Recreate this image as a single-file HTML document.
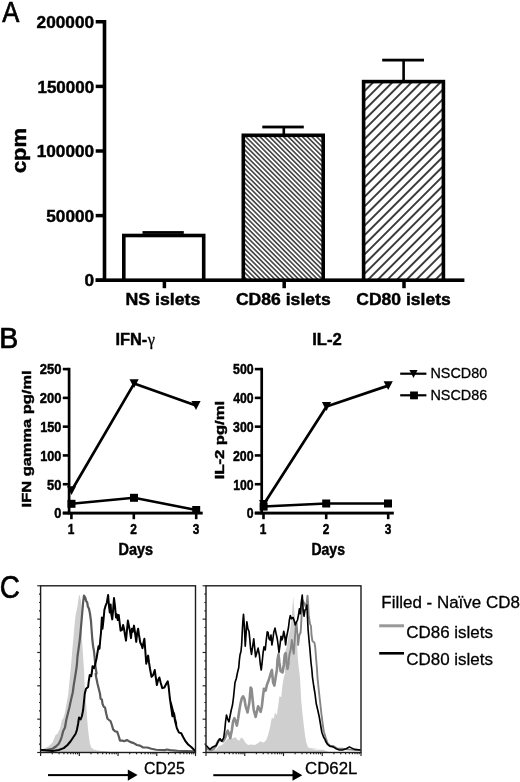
<!DOCTYPE html>
<html><head><meta charset="utf-8"><title>Figure</title>
<style>html,body{margin:0;padding:0;background:#fff}svg{display:block}</style></head>
<body>
<svg width="520" height="782" viewBox="0 0 520 782">
<rect x="0" y="0" width="520" height="782" fill="#fff"/>
<filter id="soft" x="0" y="0" width="520" height="782" filterUnits="userSpaceOnUse"><feGaussianBlur stdDeviation="0.45"/></filter>
<g filter="url(#soft)">
<rect x="-5" y="-5" width="530" height="792" fill="#fff"/>
<text transform="translate(2.24,22.30) scale(0.8553,1)" font-family='"Liberation Sans", Arial, Helvetica, sans-serif' font-weight="normal" font-size="30" fill="#000" stroke="#000" stroke-width="0.7">A</text>
<rect x="102.70" y="20.00" width="3.60" height="262.00" fill="#000"/>
<rect x="95.70" y="20.00" width="8.80" height="3.50" fill="#000"/>
<text transform="translate(36.60,27.90) scale(1.0023,1)" font-family='"Liberation Sans", Arial, Helvetica, sans-serif' font-weight="bold" font-size="17.2" fill="#000" stroke="#000" stroke-width="0.45">200000</text>
<rect x="95.70" y="84.65" width="8.80" height="3.50" fill="#000"/>
<text transform="translate(37.44,92.55) scale(0.9874,1)" font-family='"Liberation Sans", Arial, Helvetica, sans-serif' font-weight="bold" font-size="17.2" fill="#000" stroke="#000" stroke-width="0.45">150000</text>
<rect x="95.70" y="149.25" width="8.80" height="3.50" fill="#000"/>
<text transform="translate(36.72,157.15) scale(1.0000,1)" font-family='"Liberation Sans", Arial, Helvetica, sans-serif' font-weight="bold" font-size="17.2" fill="#000" stroke="#000" stroke-width="0.45">100000</text>
<rect x="95.70" y="213.85" width="8.80" height="3.50" fill="#000"/>
<text transform="translate(46.28,221.75) scale(0.9997,1)" font-family='"Liberation Sans", Arial, Helvetica, sans-serif' font-weight="bold" font-size="17.2" fill="#000" stroke="#000" stroke-width="0.45">50000</text>
<rect x="95.70" y="278.45" width="8.80" height="3.50" fill="#000"/>
<text transform="translate(84.51,286.35) scale(1.0037,1)" font-family='"Liberation Sans", Arial, Helvetica, sans-serif' font-weight="bold" font-size="17.2" fill="#000" stroke="#000" stroke-width="0.45">0</text>
<rect x="95.70" y="278.40" width="368.70" height="3.60" fill="#000"/>
<rect x="162.65" y="280.20" width="3.50" height="8.00" fill="#000"/>
<rect x="282.45" y="280.20" width="3.50" height="8.00" fill="#000"/>
<rect x="402.25" y="280.20" width="3.50" height="8.00" fill="#000"/>
<defs>
<pattern id="h2" patternUnits="userSpaceOnUse" width="3.34" height="3.34" patternTransform="translate(246.6,137.5) rotate(45)"><rect x="0" y="0" width="3.34" height="3.34" fill="#fff"/><rect x="0" y="-0.66" width="3.34" height="1.32" fill="#1a1a1a"/><rect x="0" y="2.68" width="3.34" height="1.32" fill="#1a1a1a"/></pattern>
<pattern id="h3" patternUnits="userSpaceOnUse" width="6.8" height="6.8" patternTransform="translate(372.5,83) rotate(-45)"><rect x="0" y="0" width="6.8" height="6.8" fill="#fff"/><rect x="0" y="-0.75" width="6.8" height="1.5" fill="#000"/><rect x="0" y="6.05" width="6.8" height="1.5" fill="#000"/></pattern>
</defs>
<rect x="123.80" y="235.50" width="79.90" height="44.70" fill="#fff" stroke="#000" stroke-width="3.6"/>
<rect x="243.30" y="135.30" width="79.90" height="144.90" fill="url(#h2)" stroke="#000" stroke-width="3.6"/>
<rect x="363.60" y="81.60" width="79.80" height="198.60" fill="url(#h3)" stroke="#000" stroke-width="3.6"/>
<rect x="142.50" y="231.10" width="41.30" height="2.80" fill="#000"/>
<rect x="262.30" y="125.60" width="41.50" height="2.80" fill="#000"/>
<rect x="282.50" y="127.00" width="2.60" height="7.00" fill="#000"/>
<rect x="382.20" y="58.70" width="41.80" height="2.80" fill="#000"/>
<rect x="402.30" y="60.00" width="2.60" height="21.00" fill="#000"/>
<text transform="translate(125.40,305.00) scale(1.0195,1)" font-family='"Liberation Sans", Arial, Helvetica, sans-serif' font-weight="bold" font-size="17.4" fill="#000" stroke="#000" stroke-width="0.45">NS islets</text>
<text transform="translate(235.90,304.90) scale(1.0109,1)" font-family='"Liberation Sans", Arial, Helvetica, sans-serif' font-weight="bold" font-size="17.4" fill="#000" stroke="#000" stroke-width="0.45">CD86 islets</text>
<text transform="translate(356.30,304.90) scale(1.0076,1)" font-family='"Liberation Sans", Arial, Helvetica, sans-serif' font-weight="bold" font-size="17.4" fill="#000" stroke="#000" stroke-width="0.45">CD80 islets</text>
<text transform="translate(25.50,173.08) rotate(-90) scale(1.0863,1)" font-family='"Liberation Sans", Arial, Helvetica, sans-serif' font-weight="bold" font-size="20.2" fill="#000" stroke="#000" stroke-width="0.45">cpm</text>
<text transform="translate(-0.75,347.90) scale(0.9776,1)" font-family='"Liberation Sans", Arial, Helvetica, sans-serif' font-weight="normal" font-size="29.2" fill="#000" stroke="#000" stroke-width="0.7">B</text>
<rect x="67.75" y="367.80" width="2.70" height="146.60" fill="#000"/>
<rect x="62.80" y="367.80" width="6.30" height="2.60" fill="#000"/>
<text transform="translate(39.75,374.45) scale(0.9285,1)" font-family='"Liberation Sans", Arial, Helvetica, sans-serif' font-weight="bold" font-size="14.0" fill="#000" stroke="#000" stroke-width="0.45">250</text>
<rect x="62.80" y="396.58" width="6.30" height="2.60" fill="#000"/>
<text transform="translate(39.75,403.23) scale(0.9285,1)" font-family='"Liberation Sans", Arial, Helvetica, sans-serif' font-weight="bold" font-size="14.0" fill="#000" stroke="#000" stroke-width="0.45">200</text>
<rect x="62.80" y="425.36" width="6.30" height="2.60" fill="#000"/>
<text transform="translate(40.21,432.01) scale(0.9083,1)" font-family='"Liberation Sans", Arial, Helvetica, sans-serif' font-weight="bold" font-size="14.0" fill="#000" stroke="#000" stroke-width="0.45">150</text>
<rect x="62.80" y="454.14" width="6.30" height="2.60" fill="#000"/>
<text transform="translate(40.21,460.79) scale(0.9083,1)" font-family='"Liberation Sans", Arial, Helvetica, sans-serif' font-weight="bold" font-size="14.0" fill="#000" stroke="#000" stroke-width="0.45">100</text>
<rect x="62.80" y="482.92" width="6.30" height="2.60" fill="#000"/>
<text transform="translate(47.11,489.57) scale(0.9203,1)" font-family='"Liberation Sans", Arial, Helvetica, sans-serif' font-weight="bold" font-size="14.0" fill="#000" stroke="#000" stroke-width="0.45">50</text>
<rect x="62.80" y="511.70" width="6.30" height="2.60" fill="#000"/>
<text transform="translate(54.29,518.35) scale(0.9173,1)" font-family='"Liberation Sans", Arial, Helvetica, sans-serif' font-weight="bold" font-size="14.0" fill="#000" stroke="#000" stroke-width="0.45">0</text>
<rect x="62.80" y="511.65" width="139.90" height="2.90" fill="#000"/>
<rect x="70.10" y="513.00" width="2.60" height="6.20" fill="#000"/>
<text transform="translate(67.69,534.30) scale(0.8500,1)" font-family='"Liberation Sans", Arial, Helvetica, sans-serif' font-weight="bold" font-size="14.0" fill="#000" stroke="#000" stroke-width="0.45">1</text>
<rect x="132.50" y="513.00" width="2.60" height="6.20" fill="#000"/>
<text transform="translate(130.31,534.30) scale(0.8500,1)" font-family='"Liberation Sans", Arial, Helvetica, sans-serif' font-weight="bold" font-size="14.0" fill="#000" stroke="#000" stroke-width="0.45">2</text>
<rect x="194.90" y="513.00" width="2.60" height="6.20" fill="#000"/>
<text transform="translate(192.77,534.30) scale(0.8500,1)" font-family='"Liberation Sans", Arial, Helvetica, sans-serif' font-weight="bold" font-size="14.0" fill="#000" stroke="#000" stroke-width="0.45">3</text>
<polyline points="71.50,490.70 134.10,383.60 196.00,405.50" fill="none" stroke="#000" stroke-width="2.7" stroke-linejoin="round" stroke-linecap="butt"/>
<polyline points="71.50,503.80 134.00,497.80 196.20,510.00" fill="none" stroke="#000" stroke-width="2.5" stroke-linejoin="round" stroke-linecap="butt"/>
<polygon points="66.90,486.30 76.10,486.30 71.50,495.10" fill="#000"/>
<polygon points="129.50,379.20 138.70,379.20 134.10,388.00" fill="#000"/>
<polygon points="191.40,401.10 200.60,401.10 196.00,409.90" fill="#000"/>
<rect x="67.50" y="499.80" width="8.00" height="8.00" fill="#000"/>
<rect x="130.00" y="493.80" width="8.00" height="8.00" fill="#000"/>
<rect x="192.20" y="506.00" width="8.00" height="8.00" fill="#000"/>
<rect x="260.35" y="367.80" width="2.70" height="146.60" fill="#000"/>
<rect x="254.80" y="367.80" width="6.90" height="2.60" fill="#000"/>
<text transform="translate(233.03,374.45) scale(0.8808,1)" font-family='"Liberation Sans", Arial, Helvetica, sans-serif' font-weight="bold" font-size="14.0" fill="#000" stroke="#000" stroke-width="0.45">500</text>
<rect x="254.80" y="396.58" width="6.90" height="2.60" fill="#000"/>
<text transform="translate(233.22,403.23) scale(0.8726,1)" font-family='"Liberation Sans", Arial, Helvetica, sans-serif' font-weight="bold" font-size="14.0" fill="#000" stroke="#000" stroke-width="0.45">400</text>
<rect x="254.80" y="425.36" width="6.90" height="2.60" fill="#000"/>
<text transform="translate(233.12,432.01) scale(0.8767,1)" font-family='"Liberation Sans", Arial, Helvetica, sans-serif' font-weight="bold" font-size="14.0" fill="#000" stroke="#000" stroke-width="0.45">300</text>
<rect x="254.80" y="454.14" width="6.90" height="2.60" fill="#000"/>
<text transform="translate(232.97,460.79) scale(0.8836,1)" font-family='"Liberation Sans", Arial, Helvetica, sans-serif' font-weight="bold" font-size="14.0" fill="#000" stroke="#000" stroke-width="0.45">200</text>
<rect x="254.80" y="482.92" width="6.90" height="2.60" fill="#000"/>
<text transform="translate(233.24,489.57) scale(0.8717,1)" font-family='"Liberation Sans", Arial, Helvetica, sans-serif' font-weight="bold" font-size="14.0" fill="#000" stroke="#000" stroke-width="0.45">100</text>
<rect x="254.80" y="511.70" width="6.90" height="2.60" fill="#000"/>
<text transform="translate(246.81,518.35) scale(0.8722,1)" font-family='"Liberation Sans", Arial, Helvetica, sans-serif' font-weight="bold" font-size="14.0" fill="#000" stroke="#000" stroke-width="0.45">0</text>
<rect x="254.80" y="511.65" width="139.00" height="2.90" fill="#000"/>
<rect x="262.20" y="513.00" width="2.60" height="6.20" fill="#000"/>
<text transform="translate(259.79,534.30) scale(0.8500,1)" font-family='"Liberation Sans", Arial, Helvetica, sans-serif' font-weight="bold" font-size="14.0" fill="#000" stroke="#000" stroke-width="0.45">1</text>
<rect x="324.90" y="513.00" width="2.60" height="6.20" fill="#000"/>
<text transform="translate(322.71,534.30) scale(0.8500,1)" font-family='"Liberation Sans", Arial, Helvetica, sans-serif' font-weight="bold" font-size="14.0" fill="#000" stroke="#000" stroke-width="0.45">2</text>
<rect x="386.90" y="513.00" width="2.60" height="6.20" fill="#000"/>
<text transform="translate(384.77,534.30) scale(0.8500,1)" font-family='"Liberation Sans", Arial, Helvetica, sans-serif' font-weight="bold" font-size="14.0" fill="#000" stroke="#000" stroke-width="0.45">3</text>
<polyline points="263.60,504.50 326.50,406.50 388.20,385.60" fill="none" stroke="#000" stroke-width="2.7" stroke-linejoin="round" stroke-linecap="butt"/>
<polyline points="263.60,506.60 326.20,503.50 388.00,503.50" fill="none" stroke="#000" stroke-width="2.5" stroke-linejoin="round" stroke-linecap="butt"/>
<polygon points="259.00,500.10 268.20,500.10 263.60,508.90" fill="#000"/>
<polygon points="321.90,402.10 331.10,402.10 326.50,410.90" fill="#000"/>
<polygon points="383.60,381.20 392.80,381.20 388.20,390.00" fill="#000"/>
<rect x="259.60" y="502.60" width="8.00" height="8.00" fill="#000"/>
<rect x="322.20" y="499.50" width="8.00" height="8.00" fill="#000"/>
<rect x="384.00" y="499.50" width="8.00" height="8.00" fill="#000"/>
<text transform="translate(118.42,555.40) scale(0.9064,1)" font-family='"Liberation Sans", Arial, Helvetica, sans-serif' font-weight="bold" font-size="16.0" fill="#000" stroke="#000" stroke-width="0.45">Days</text>
<text transform="translate(311.45,554.90) scale(0.8762,1)" font-family='"Liberation Sans", Arial, Helvetica, sans-serif' font-weight="bold" font-size="16.0" fill="#000" stroke="#000" stroke-width="0.45">Days</text>
<text transform="translate(31.00,507.41) rotate(-90) scale(1.2100,1)" font-family='"Liberation Sans", Arial, Helvetica, sans-serif' font-weight="bold" font-size="13.6" fill="#000" stroke="#000" stroke-width="0.45">IFN gamma pg/ml</text>
<text transform="translate(223.70,479.22) rotate(-90) scale(1.2204,1)" font-family='"Liberation Sans", Arial, Helvetica, sans-serif' font-weight="bold" font-size="13.6" fill="#000" stroke="#000" stroke-width="0.45">IL-2 pg/ml</text>
<text transform="translate(115.39,344.60) scale(0.9537,1)" font-family='"Liberation Sans", Arial, Helvetica, sans-serif' font-weight="bold" font-size="17.2" fill="#000" stroke="#000" stroke-width="0.45">IFN-</text>
<text transform="translate(147.64,344.60) scale(0.9898,1)" font-family='"Liberation Serif", "Times New Roman", serif' font-weight="normal" font-size="16.5" fill="#000" stroke="#000" stroke-width="0.3">γ</text>
<text transform="translate(312.17,345.20) scale(0.9699,1)" font-family='"Liberation Sans", Arial, Helvetica, sans-serif' font-weight="bold" font-size="17.2" fill="#000" stroke="#000" stroke-width="0.45">IL-2</text>
<rect x="400.20" y="372.60" width="26.20" height="2.20" fill="#000"/>
<polygon points="409.40,370.10 417.60,370.10 413.50,377.90" fill="#000"/>
<rect x="400.20" y="394.20" width="26.20" height="2.20" fill="#000"/>
<rect x="410.10" y="391.50" width="7.80" height="7.80" fill="#000"/>
<text transform="translate(430.41,378.30) scale(0.9586,1)" font-family='"Liberation Sans", Arial, Helvetica, sans-serif' font-weight="normal" font-size="15" fill="#000" stroke="#000" stroke-width="0.3">NSCD80</text>
<text transform="translate(430.41,400.40) scale(0.9599,1)" font-family='"Liberation Sans", Arial, Helvetica, sans-serif' font-weight="normal" font-size="15" fill="#000" stroke="#000" stroke-width="0.3">NSCD86</text>
<!--PANELC-->
<path d="M41.10 752.50 L41.25 749.38 L45.00 748.12 L48.75 746.25 L52.50 742.50 L55.62 735.00 L57.50 733.75 L60.00 728.75 L61.88 720.00 L63.12 718.75 L65.00 712.50 L66.25 705.00 L68.12 695.00 L69.38 682.50 L70.62 670.00 L71.50 660.00 L72.50 647.50 L73.50 637.50 L74.38 626.25 L75.62 615.00 L77.50 606.25 L79.00 595.00 L79.75 595.62 L80.75 600.00 L81.75 607.50 L82.00 616.25 L81.88 628.75 L82.12 641.25 L82.75 651.25 L83.50 662.50 L84.25 672.50 L84.38 680.00 L85.00 690.00 L86.25 705.00 L87.25 720.00 L88.12 730.00 L89.00 737.50 L90.00 743.75 L91.25 747.50 L93.75 749.38 L97.50 750.62 L105.00 751.25 L115.00 752.50 Z" fill="#cfcfcf" stroke="none" stroke-width="0" stroke-linejoin="round" stroke-linecap="round"/>
<path d="M41.25 750.00 L46.25 750.00 L52.50 748.75 L56.25 746.25 L58.75 743.75 L60.62 740.00 L61.88 736.25 L63.12 731.25 L65.00 727.50 L66.25 720.00 L67.50 715.00 L69.38 707.50 L71.25 698.75 L72.75 692.50 L73.75 685.00 L75.00 677.50 L76.00 671.25 L76.88 665.00 L77.50 656.25 L78.75 647.50 L79.75 640.00 L80.62 631.25 L81.50 621.25 L82.25 612.50 L83.12 602.50 L84.00 595.62 L85.25 597.50 L86.25 601.25 L87.25 602.50 L87.75 606.25 L89.00 608.75 L90.00 613.75 L91.00 621.25 L91.62 630.00 L92.25 638.75 L93.12 646.25 L94.00 651.25 L94.75 658.75 L95.25 665.00 L96.00 670.00 L96.62 673.75 L95.62 673.75 L96.25 677.50 L97.50 683.75 L98.75 688.75 L100.00 693.75 L100.62 698.75 L101.88 699.38 L102.50 703.75 L103.75 706.88 L105.00 707.50 L106.25 713.75 L107.50 718.75 L110.62 721.25 L111.88 725.00 L113.12 729.38 L115.00 731.25 L117.25 731.88 L118.75 736.25 L120.00 740.62 L122.50 740.62 L124.38 741.25 L126.88 740.00 L130.00 741.88 L133.75 743.12 L136.88 745.00 L140.00 745.62 L143.12 747.50 L147.50 747.50 L151.25 748.75 L156.25 749.75 L160.00 750.00 L165.00 750.12 L166.88 749.50 L170.00 750.12 L177.50 750.75 L195.00 751.38" fill="none" stroke="#5a5a5a" stroke-width="2.2" stroke-linejoin="round" stroke-linecap="round"/>
<path d="M41.25 750.00 L52.50 751.00 L58.75 750.00 L63.75 748.12 L67.50 745.00 L70.62 741.25 L73.12 737.50 L75.62 733.75 L76.88 730.00 L78.12 723.75 L79.00 717.50 L80.62 719.38 L81.88 716.25 L83.12 710.00 L84.00 701.25 L84.75 693.75 L86.00 688.75 L88.12 686.88 L88.75 681.25 L89.75 675.00 L91.25 676.25 L92.00 671.25 L92.50 666.25 L94.00 668.12 L95.00 665.00 L96.50 658.75 L97.50 652.50 L98.50 646.25 L99.50 648.75 L100.25 640.00 L101.00 632.50 L101.88 617.50 L102.50 628.75 L103.50 620.00 L104.38 610.00 L105.62 605.62 L106.88 602.50 L108.12 595.00 L109.00 606.25 L109.75 612.50 L110.62 604.38 L111.25 613.75 L112.25 619.38 L113.12 610.00 L114.00 598.12 L115.00 606.25 L116.00 617.50 L116.88 614.38 L117.75 620.00 L118.75 615.00 L119.75 623.75 L120.62 630.62 L121.88 630.00 L123.12 625.00 L124.00 628.75 L125.00 635.00 L126.00 640.62 L126.88 631.25 L127.88 620.62 L129.00 626.25 L130.00 631.25 L131.00 638.12 L131.88 628.75 L132.75 631.88 L134.00 625.62 L135.00 632.50 L136.25 641.88 L137.25 632.50 L138.12 628.75 L139.00 635.00 L140.25 642.50 L141.50 645.00 L142.50 648.12 L143.50 642.50 L144.38 638.75 L145.25 650.00 L146.25 663.75 L147.25 658.75 L148.12 655.62 L149.00 662.50 L150.00 668.75 L151.50 676.88 L153.12 675.00 L154.75 670.00 L155.62 676.25 L156.88 685.00 L158.12 680.00 L159.38 677.50 L160.62 682.50 L162.25 688.12 L164.38 687.50 L166.25 683.75 L167.75 681.25 L168.75 687.50 L169.75 697.50 L171.00 706.25 L172.50 716.25 L174.00 713.12 L175.00 718.75 L176.25 723.75 L170.62 702.00 L172.25 715.75 L173.75 713.25 L175.00 720.75 L176.88 728.25 L179.00 732.62 L181.25 733.25 L183.12 737.00 L185.62 741.38 L188.12 744.50 L191.25 747.00 L195.00 750.75" fill="none" stroke="#000" stroke-width="2.0" stroke-linejoin="round" stroke-linecap="round"/>
<path d="M206.50 752.50 L207.50 750.00 L212.50 750.62 L216.25 749.38 L218.75 746.25 L221.88 745.00 L225.00 741.88 L226.88 739.38 L229.38 738.12 L231.88 738.50 L233.75 738.12 L235.62 736.88 L237.50 740.00 L239.38 740.62 L241.25 737.50 L243.12 738.75 L245.62 743.12 L248.12 745.00 L251.25 744.38 L255.00 745.00 L258.12 743.12 L260.62 741.25 L262.50 742.50 L265.00 741.88 L263.75 742.50 L266.25 740.00 L268.12 735.00 L270.00 727.50 L271.88 717.50 L273.75 718.75 L275.00 712.50 L276.88 715.00 L278.12 706.25 L279.38 696.25 L281.25 696.88 L282.50 685.00 L283.75 677.50 L285.00 673.75 L284.38 666.25 L285.00 660.00 L285.62 650.00 L286.88 646.25 L287.75 641.25 L288.75 635.00 L290.00 631.25 L291.25 621.25 L292.25 610.00 L293.12 596.25 L294.00 607.50 L295.00 617.50 L295.62 627.50 L296.50 637.50 L297.25 647.50 L297.75 657.50 L298.75 667.50 L300.00 677.50 L300.62 688.75 L301.25 701.25 L302.50 713.75 L303.75 725.00 L305.00 735.00 L306.25 742.50 L308.12 747.50 L311.25 748.75 L316.25 750.00 L325.00 750.00 L308.12 747.50 L312.50 748.75 L323.75 750.00 L330.00 752.50 Z" fill="#cfcfcf" stroke="none" stroke-width="0" stroke-linejoin="round" stroke-linecap="round"/>
<path d="M288.50 662.50 L289.38 655.00 L290.62 650.00 L291.88 640.00 L292.75 647.50 L293.75 653.75 L294.75 640.00 L295.62 628.75 L296.50 622.50 L297.50 635.00 L298.12 645.00 L299.38 635.00 L300.62 632.50 L301.25 622.50 L301.88 610.00 L302.50 600.00 L303.75 602.50 L305.00 605.00 L306.00 607.50 L306.88 601.25 L307.50 595.62 L308.12 603.75 L308.75 616.25 L310.00 623.75 L311.00 626.25 L311.50 635.00 L312.50 641.25 L314.38 642.50 L315.25 647.50 L316.00 657.50 L316.88 667.50 L317.50 677.50 L318.75 690.00 L320.00 701.25 L321.25 712.50 L322.50 722.50 L323.75 731.25 L325.62 737.50 L327.50 743.12 L330.00 745.62 L333.75 746.25 L337.50 748.75 L342.50 748.75 L347.50 749.38 L355.00 749.75 L360.00 750.00" fill="none" stroke="#858585" stroke-width="1.9" stroke-linejoin="round" stroke-linecap="round"/>
<path d="M207.50 748.75 L211.25 750.00 L213.75 748.75 L215.62 746.25 L217.50 742.50 L219.38 739.38 L221.25 740.62 L223.12 741.25 L225.00 738.12 L226.50 733.75 L227.75 730.62 L229.00 733.75 L230.25 738.12 L231.88 730.00 L233.12 721.25 L234.38 718.12 L235.62 721.25 L236.88 725.62 L238.12 718.75 L239.38 710.00 L240.62 703.12 L241.88 698.12 L243.12 696.25 L244.38 698.75 L245.62 706.25 L247.50 712.50 L249.38 702.50 L250.62 687.50 L251.50 688.75 L252.50 698.75 L253.75 710.00 L255.62 716.88 L257.25 710.00 L258.12 706.25 L259.38 708.75 L260.62 711.88 L261.88 706.25 L263.12 695.00 L264.00 688.75 L263.75 688.75 L265.62 690.62 L266.88 685.00 L268.75 680.00 L270.62 673.75 L271.88 670.00 L273.12 682.50 L274.38 685.62 L275.62 677.50 L276.88 670.00 L277.50 660.00 L278.50 654.38 L279.38 662.50 L280.62 671.25 L282.50 672.50 L283.75 665.00 L284.75 655.00 L285.62 653.12 L286.50 661.25 L287.50 668.75 L288.50 662.50" fill="none" stroke="#8c8c8c" stroke-width="2.6" stroke-linejoin="round" stroke-linecap="round"/>
<path d="M206.25 745.62 L208.12 747.50 L210.00 749.38 L211.88 747.50 L214.38 746.25 L216.25 745.62 L218.12 741.25 L220.00 738.75 L221.88 741.25 L223.75 737.50 L224.75 730.00 L225.62 721.25 L226.50 715.00 L227.75 719.38 L229.00 721.88 L230.00 716.25 L231.25 710.00 L232.50 705.00 L233.50 697.50 L234.38 688.75 L235.00 682.50 L236.25 678.75 L237.50 672.50 L238.75 667.50 L239.38 660.00 L240.00 655.00 L241.00 651.25 L241.62 645.00 L242.25 632.50 L242.88 621.25 L243.50 614.38 L244.38 626.25 L245.25 646.25 L246.00 635.00 L246.88 621.88 L247.88 628.75 L249.00 631.25 L249.75 638.75 L250.62 648.75 L251.50 654.38 L252.50 647.50 L253.75 638.75 L254.75 648.75 L255.62 656.88 L256.88 652.50 L258.12 648.12 L259.38 655.00 L260.25 663.75 L261.25 670.00 L262.12 662.50 L263.12 652.50 L264.00 646.88 L265.25 650.00 L266.25 640.00 L267.25 631.88 L268.12 632.50 L269.00 638.75 L270.00 640.00 L271.00 635.00 L271.88 645.00 L272.75 640.00 L273.75 632.50 L275.00 628.12 L276.00 633.12 L277.25 638.75 L278.12 645.00 L279.00 652.50 L280.00 645.00 L281.00 636.25 L281.88 640.00 L282.75 637.50 L283.75 631.25 L284.75 636.25 L285.62 645.00 L286.50 637.50 L287.50 632.50 L288.50 627.50 L289.38 620.00 L290.25 615.62 L291.50 618.75 L293.12 617.50 L294.38 621.25 L295.25 625.00 L296.25 622.50 L297.50 620.00 L298.50 615.00 L299.38 608.75 L300.25 613.75 L301.25 602.50 L302.25 595.00 L303.12 610.00 L304.00 616.25 L305.00 610.00 L306.25 608.75 L306.88 605.00 L307.50 617.50 L308.12 630.00 L309.00 640.00 L309.75 647.50 L310.38 655.00 L311.00 662.50 L311.88 670.00 L312.50 677.50 L313.75 686.25 L315.00 693.75 L316.25 703.75 L317.75 710.00 L319.38 717.50 L320.62 725.00 L321.88 732.50 L323.75 737.50 L325.00 739.38 L325.62 741.25 L327.50 744.38 L330.00 746.25 L333.12 746.88 L336.25 748.75 L339.38 750.00 L342.50 750.00 L346.25 748.75 L349.38 746.88 L351.88 748.12 L354.38 749.38 L360.00 750.00" fill="none" stroke="#000" stroke-width="1.65" stroke-linejoin="round" stroke-linecap="round"/>
<rect x="40.60" y="585.80" width="154.90" height="166.70" fill="none" stroke="#1c1c1c" stroke-width="1.4"/>
<line x1="40.60" y1="752.50" x2="40.60" y2="756.10" stroke="#222" stroke-width="1.15" stroke-linecap="butt"/>
<line x1="52.26" y1="752.50" x2="52.26" y2="754.30" stroke="#222" stroke-width="1.15" stroke-linecap="butt"/>
<line x1="59.08" y1="752.50" x2="59.08" y2="754.30" stroke="#222" stroke-width="1.15" stroke-linecap="butt"/>
<line x1="63.91" y1="752.50" x2="63.91" y2="754.30" stroke="#222" stroke-width="1.15" stroke-linecap="butt"/>
<line x1="67.67" y1="752.50" x2="67.67" y2="754.30" stroke="#222" stroke-width="1.15" stroke-linecap="butt"/>
<line x1="70.73" y1="752.50" x2="70.73" y2="754.30" stroke="#222" stroke-width="1.15" stroke-linecap="butt"/>
<line x1="73.33" y1="752.50" x2="73.33" y2="754.30" stroke="#222" stroke-width="1.15" stroke-linecap="butt"/>
<line x1="75.57" y1="752.50" x2="75.57" y2="754.30" stroke="#222" stroke-width="1.15" stroke-linecap="butt"/>
<line x1="77.55" y1="752.50" x2="77.55" y2="754.30" stroke="#222" stroke-width="1.15" stroke-linecap="butt"/>
<line x1="79.33" y1="752.50" x2="79.33" y2="756.10" stroke="#222" stroke-width="1.15" stroke-linecap="butt"/>
<line x1="90.98" y1="752.50" x2="90.98" y2="754.30" stroke="#222" stroke-width="1.15" stroke-linecap="butt"/>
<line x1="97.80" y1="752.50" x2="97.80" y2="754.30" stroke="#222" stroke-width="1.15" stroke-linecap="butt"/>
<line x1="102.64" y1="752.50" x2="102.64" y2="754.30" stroke="#222" stroke-width="1.15" stroke-linecap="butt"/>
<line x1="106.39" y1="752.50" x2="106.39" y2="754.30" stroke="#222" stroke-width="1.15" stroke-linecap="butt"/>
<line x1="109.46" y1="752.50" x2="109.46" y2="754.30" stroke="#222" stroke-width="1.15" stroke-linecap="butt"/>
<line x1="112.05" y1="752.50" x2="112.05" y2="754.30" stroke="#222" stroke-width="1.15" stroke-linecap="butt"/>
<line x1="114.30" y1="752.50" x2="114.30" y2="754.30" stroke="#222" stroke-width="1.15" stroke-linecap="butt"/>
<line x1="116.28" y1="752.50" x2="116.28" y2="754.30" stroke="#222" stroke-width="1.15" stroke-linecap="butt"/>
<line x1="118.05" y1="752.50" x2="118.05" y2="756.10" stroke="#222" stroke-width="1.15" stroke-linecap="butt"/>
<line x1="129.71" y1="752.50" x2="129.71" y2="754.30" stroke="#222" stroke-width="1.15" stroke-linecap="butt"/>
<line x1="136.53" y1="752.50" x2="136.53" y2="754.30" stroke="#222" stroke-width="1.15" stroke-linecap="butt"/>
<line x1="141.36" y1="752.50" x2="141.36" y2="754.30" stroke="#222" stroke-width="1.15" stroke-linecap="butt"/>
<line x1="145.12" y1="752.50" x2="145.12" y2="754.30" stroke="#222" stroke-width="1.15" stroke-linecap="butt"/>
<line x1="148.18" y1="752.50" x2="148.18" y2="754.30" stroke="#222" stroke-width="1.15" stroke-linecap="butt"/>
<line x1="150.78" y1="752.50" x2="150.78" y2="754.30" stroke="#222" stroke-width="1.15" stroke-linecap="butt"/>
<line x1="153.02" y1="752.50" x2="153.02" y2="754.30" stroke="#222" stroke-width="1.15" stroke-linecap="butt"/>
<line x1="155.00" y1="752.50" x2="155.00" y2="754.30" stroke="#222" stroke-width="1.15" stroke-linecap="butt"/>
<line x1="156.78" y1="752.50" x2="156.78" y2="756.10" stroke="#222" stroke-width="1.15" stroke-linecap="butt"/>
<line x1="168.43" y1="752.50" x2="168.43" y2="754.30" stroke="#222" stroke-width="1.15" stroke-linecap="butt"/>
<line x1="175.25" y1="752.50" x2="175.25" y2="754.30" stroke="#222" stroke-width="1.15" stroke-linecap="butt"/>
<line x1="180.09" y1="752.50" x2="180.09" y2="754.30" stroke="#222" stroke-width="1.15" stroke-linecap="butt"/>
<line x1="183.84" y1="752.50" x2="183.84" y2="754.30" stroke="#222" stroke-width="1.15" stroke-linecap="butt"/>
<line x1="186.91" y1="752.50" x2="186.91" y2="754.30" stroke="#222" stroke-width="1.15" stroke-linecap="butt"/>
<line x1="189.50" y1="752.50" x2="189.50" y2="754.30" stroke="#222" stroke-width="1.15" stroke-linecap="butt"/>
<line x1="191.75" y1="752.50" x2="191.75" y2="754.30" stroke="#222" stroke-width="1.15" stroke-linecap="butt"/>
<line x1="193.73" y1="752.50" x2="193.73" y2="754.30" stroke="#222" stroke-width="1.15" stroke-linecap="butt"/>
<line x1="195.50" y1="752.50" x2="195.50" y2="756.10" stroke="#222" stroke-width="1.15" stroke-linecap="butt"/>
<line x1="37.20" y1="752.50" x2="40.60" y2="752.50" stroke="#222" stroke-width="1.15" stroke-linecap="butt"/>
<line x1="39.00" y1="744.16" x2="40.60" y2="744.16" stroke="#222" stroke-width="1.15" stroke-linecap="butt"/>
<line x1="39.00" y1="735.83" x2="40.60" y2="735.83" stroke="#222" stroke-width="1.15" stroke-linecap="butt"/>
<line x1="39.00" y1="727.50" x2="40.60" y2="727.50" stroke="#222" stroke-width="1.15" stroke-linecap="butt"/>
<line x1="37.20" y1="719.16" x2="40.60" y2="719.16" stroke="#222" stroke-width="1.15" stroke-linecap="butt"/>
<line x1="39.00" y1="710.83" x2="40.60" y2="710.83" stroke="#222" stroke-width="1.15" stroke-linecap="butt"/>
<line x1="39.00" y1="702.49" x2="40.60" y2="702.49" stroke="#222" stroke-width="1.15" stroke-linecap="butt"/>
<line x1="39.00" y1="694.15" x2="40.60" y2="694.15" stroke="#222" stroke-width="1.15" stroke-linecap="butt"/>
<line x1="37.20" y1="685.82" x2="40.60" y2="685.82" stroke="#222" stroke-width="1.15" stroke-linecap="butt"/>
<line x1="39.00" y1="677.49" x2="40.60" y2="677.49" stroke="#222" stroke-width="1.15" stroke-linecap="butt"/>
<line x1="39.00" y1="669.15" x2="40.60" y2="669.15" stroke="#222" stroke-width="1.15" stroke-linecap="butt"/>
<line x1="39.00" y1="660.81" x2="40.60" y2="660.81" stroke="#222" stroke-width="1.15" stroke-linecap="butt"/>
<line x1="37.20" y1="652.48" x2="40.60" y2="652.48" stroke="#222" stroke-width="1.15" stroke-linecap="butt"/>
<line x1="39.00" y1="644.14" x2="40.60" y2="644.14" stroke="#222" stroke-width="1.15" stroke-linecap="butt"/>
<line x1="39.00" y1="635.81" x2="40.60" y2="635.81" stroke="#222" stroke-width="1.15" stroke-linecap="butt"/>
<line x1="39.00" y1="627.47" x2="40.60" y2="627.47" stroke="#222" stroke-width="1.15" stroke-linecap="butt"/>
<line x1="37.20" y1="619.14" x2="40.60" y2="619.14" stroke="#222" stroke-width="1.15" stroke-linecap="butt"/>
<line x1="39.00" y1="610.80" x2="40.60" y2="610.80" stroke="#222" stroke-width="1.15" stroke-linecap="butt"/>
<line x1="39.00" y1="602.47" x2="40.60" y2="602.47" stroke="#222" stroke-width="1.15" stroke-linecap="butt"/>
<line x1="39.00" y1="594.13" x2="40.60" y2="594.13" stroke="#222" stroke-width="1.15" stroke-linecap="butt"/>
<line x1="37.20" y1="585.80" x2="40.60" y2="585.80" stroke="#222" stroke-width="1.15" stroke-linecap="butt"/>
<rect x="206.00" y="585.80" width="155.00" height="166.70" fill="none" stroke="#1c1c1c" stroke-width="1.4"/>
<line x1="206.00" y1="752.50" x2="206.00" y2="756.10" stroke="#222" stroke-width="1.15" stroke-linecap="butt"/>
<line x1="217.66" y1="752.50" x2="217.66" y2="754.30" stroke="#222" stroke-width="1.15" stroke-linecap="butt"/>
<line x1="224.49" y1="752.50" x2="224.49" y2="754.30" stroke="#222" stroke-width="1.15" stroke-linecap="butt"/>
<line x1="229.33" y1="752.50" x2="229.33" y2="754.30" stroke="#222" stroke-width="1.15" stroke-linecap="butt"/>
<line x1="233.09" y1="752.50" x2="233.09" y2="754.30" stroke="#222" stroke-width="1.15" stroke-linecap="butt"/>
<line x1="236.15" y1="752.50" x2="236.15" y2="754.30" stroke="#222" stroke-width="1.15" stroke-linecap="butt"/>
<line x1="238.75" y1="752.50" x2="238.75" y2="754.30" stroke="#222" stroke-width="1.15" stroke-linecap="butt"/>
<line x1="240.99" y1="752.50" x2="240.99" y2="754.30" stroke="#222" stroke-width="1.15" stroke-linecap="butt"/>
<line x1="242.98" y1="752.50" x2="242.98" y2="754.30" stroke="#222" stroke-width="1.15" stroke-linecap="butt"/>
<line x1="244.75" y1="752.50" x2="244.75" y2="756.10" stroke="#222" stroke-width="1.15" stroke-linecap="butt"/>
<line x1="256.41" y1="752.50" x2="256.41" y2="754.30" stroke="#222" stroke-width="1.15" stroke-linecap="butt"/>
<line x1="263.24" y1="752.50" x2="263.24" y2="754.30" stroke="#222" stroke-width="1.15" stroke-linecap="butt"/>
<line x1="268.08" y1="752.50" x2="268.08" y2="754.30" stroke="#222" stroke-width="1.15" stroke-linecap="butt"/>
<line x1="271.84" y1="752.50" x2="271.84" y2="754.30" stroke="#222" stroke-width="1.15" stroke-linecap="butt"/>
<line x1="274.90" y1="752.50" x2="274.90" y2="754.30" stroke="#222" stroke-width="1.15" stroke-linecap="butt"/>
<line x1="277.50" y1="752.50" x2="277.50" y2="754.30" stroke="#222" stroke-width="1.15" stroke-linecap="butt"/>
<line x1="279.74" y1="752.50" x2="279.74" y2="754.30" stroke="#222" stroke-width="1.15" stroke-linecap="butt"/>
<line x1="281.73" y1="752.50" x2="281.73" y2="754.30" stroke="#222" stroke-width="1.15" stroke-linecap="butt"/>
<line x1="283.50" y1="752.50" x2="283.50" y2="756.10" stroke="#222" stroke-width="1.15" stroke-linecap="butt"/>
<line x1="295.16" y1="752.50" x2="295.16" y2="754.30" stroke="#222" stroke-width="1.15" stroke-linecap="butt"/>
<line x1="301.99" y1="752.50" x2="301.99" y2="754.30" stroke="#222" stroke-width="1.15" stroke-linecap="butt"/>
<line x1="306.83" y1="752.50" x2="306.83" y2="754.30" stroke="#222" stroke-width="1.15" stroke-linecap="butt"/>
<line x1="310.59" y1="752.50" x2="310.59" y2="754.30" stroke="#222" stroke-width="1.15" stroke-linecap="butt"/>
<line x1="313.65" y1="752.50" x2="313.65" y2="754.30" stroke="#222" stroke-width="1.15" stroke-linecap="butt"/>
<line x1="316.25" y1="752.50" x2="316.25" y2="754.30" stroke="#222" stroke-width="1.15" stroke-linecap="butt"/>
<line x1="318.49" y1="752.50" x2="318.49" y2="754.30" stroke="#222" stroke-width="1.15" stroke-linecap="butt"/>
<line x1="320.48" y1="752.50" x2="320.48" y2="754.30" stroke="#222" stroke-width="1.15" stroke-linecap="butt"/>
<line x1="322.25" y1="752.50" x2="322.25" y2="756.10" stroke="#222" stroke-width="1.15" stroke-linecap="butt"/>
<line x1="333.91" y1="752.50" x2="333.91" y2="754.30" stroke="#222" stroke-width="1.15" stroke-linecap="butt"/>
<line x1="340.74" y1="752.50" x2="340.74" y2="754.30" stroke="#222" stroke-width="1.15" stroke-linecap="butt"/>
<line x1="345.58" y1="752.50" x2="345.58" y2="754.30" stroke="#222" stroke-width="1.15" stroke-linecap="butt"/>
<line x1="349.34" y1="752.50" x2="349.34" y2="754.30" stroke="#222" stroke-width="1.15" stroke-linecap="butt"/>
<line x1="352.40" y1="752.50" x2="352.40" y2="754.30" stroke="#222" stroke-width="1.15" stroke-linecap="butt"/>
<line x1="355.00" y1="752.50" x2="355.00" y2="754.30" stroke="#222" stroke-width="1.15" stroke-linecap="butt"/>
<line x1="357.24" y1="752.50" x2="357.24" y2="754.30" stroke="#222" stroke-width="1.15" stroke-linecap="butt"/>
<line x1="359.23" y1="752.50" x2="359.23" y2="754.30" stroke="#222" stroke-width="1.15" stroke-linecap="butt"/>
<line x1="361.00" y1="752.50" x2="361.00" y2="756.10" stroke="#222" stroke-width="1.15" stroke-linecap="butt"/>
<line x1="202.60" y1="752.50" x2="206.00" y2="752.50" stroke="#222" stroke-width="1.15" stroke-linecap="butt"/>
<line x1="204.40" y1="744.16" x2="206.00" y2="744.16" stroke="#222" stroke-width="1.15" stroke-linecap="butt"/>
<line x1="204.40" y1="735.83" x2="206.00" y2="735.83" stroke="#222" stroke-width="1.15" stroke-linecap="butt"/>
<line x1="204.40" y1="727.50" x2="206.00" y2="727.50" stroke="#222" stroke-width="1.15" stroke-linecap="butt"/>
<line x1="202.60" y1="719.16" x2="206.00" y2="719.16" stroke="#222" stroke-width="1.15" stroke-linecap="butt"/>
<line x1="204.40" y1="710.83" x2="206.00" y2="710.83" stroke="#222" stroke-width="1.15" stroke-linecap="butt"/>
<line x1="204.40" y1="702.49" x2="206.00" y2="702.49" stroke="#222" stroke-width="1.15" stroke-linecap="butt"/>
<line x1="204.40" y1="694.15" x2="206.00" y2="694.15" stroke="#222" stroke-width="1.15" stroke-linecap="butt"/>
<line x1="202.60" y1="685.82" x2="206.00" y2="685.82" stroke="#222" stroke-width="1.15" stroke-linecap="butt"/>
<line x1="204.40" y1="677.49" x2="206.00" y2="677.49" stroke="#222" stroke-width="1.15" stroke-linecap="butt"/>
<line x1="204.40" y1="669.15" x2="206.00" y2="669.15" stroke="#222" stroke-width="1.15" stroke-linecap="butt"/>
<line x1="204.40" y1="660.81" x2="206.00" y2="660.81" stroke="#222" stroke-width="1.15" stroke-linecap="butt"/>
<line x1="202.60" y1="652.48" x2="206.00" y2="652.48" stroke="#222" stroke-width="1.15" stroke-linecap="butt"/>
<line x1="204.40" y1="644.14" x2="206.00" y2="644.14" stroke="#222" stroke-width="1.15" stroke-linecap="butt"/>
<line x1="204.40" y1="635.81" x2="206.00" y2="635.81" stroke="#222" stroke-width="1.15" stroke-linecap="butt"/>
<line x1="204.40" y1="627.47" x2="206.00" y2="627.47" stroke="#222" stroke-width="1.15" stroke-linecap="butt"/>
<line x1="202.60" y1="619.14" x2="206.00" y2="619.14" stroke="#222" stroke-width="1.15" stroke-linecap="butt"/>
<line x1="204.40" y1="610.80" x2="206.00" y2="610.80" stroke="#222" stroke-width="1.15" stroke-linecap="butt"/>
<line x1="204.40" y1="602.47" x2="206.00" y2="602.47" stroke="#222" stroke-width="1.15" stroke-linecap="butt"/>
<line x1="204.40" y1="594.13" x2="206.00" y2="594.13" stroke="#222" stroke-width="1.15" stroke-linecap="butt"/>
<line x1="202.60" y1="585.80" x2="206.00" y2="585.80" stroke="#222" stroke-width="1.15" stroke-linecap="butt"/>
<text transform="translate(-0.19,597.60) scale(0.8992,1)" font-family='"Liberation Sans", Arial, Helvetica, sans-serif' font-weight="normal" font-size="31.0" fill="#000" stroke="#000" stroke-width="0.7">C</text>
<rect x="48.00" y="774.10" width="81.60" height="2.00" fill="#000"/>
<polygon points="127.80,769.50 137.60,775.10 127.80,780.70" fill="#000"/>
<rect x="213.30" y="774.20" width="81.00" height="2.00" fill="#000"/>
<polygon points="292.50,769.60 302.30,775.20 292.50,780.80" fill="#000"/>
<text transform="translate(144.00,774.20) scale(1.0220,1)" font-family='"Liberation Sans", Arial, Helvetica, sans-serif' font-weight="normal" font-size="15.6" fill="#000" stroke="#000" stroke-width="0.3">CD25</text>
<text transform="translate(305.06,774.20) scale(1.0768,1)" font-family='"Liberation Sans", Arial, Helvetica, sans-serif' font-weight="normal" font-size="15.6" fill="#000" stroke="#000" stroke-width="0.3">CD62L</text>
<text transform="translate(381.30,608.00) scale(0.9860,1)" font-family='"Liberation Sans", Arial, Helvetica, sans-serif' font-weight="normal" font-size="17.2" fill="#000" stroke="#000" stroke-width="0.3">Filled - Naïve CD8</text>
<rect x="379.20" y="624.30" width="24.80" height="3.00" fill="#999"/>
<rect x="379.20" y="652.00" width="24.80" height="2.60" fill="#000"/>
<text transform="translate(406.25,638.40) scale(0.9864,1)" font-family='"Liberation Sans", Arial, Helvetica, sans-serif' font-weight="normal" font-size="17.2" fill="#000" stroke="#000" stroke-width="0.3">CD86 islets</text>
<text transform="translate(406.25,665.20) scale(0.9864,1)" font-family='"Liberation Sans", Arial, Helvetica, sans-serif' font-weight="normal" font-size="17.2" fill="#000" stroke="#000" stroke-width="0.3">CD80 islets</text>
</g>
</svg>
</body></html>
